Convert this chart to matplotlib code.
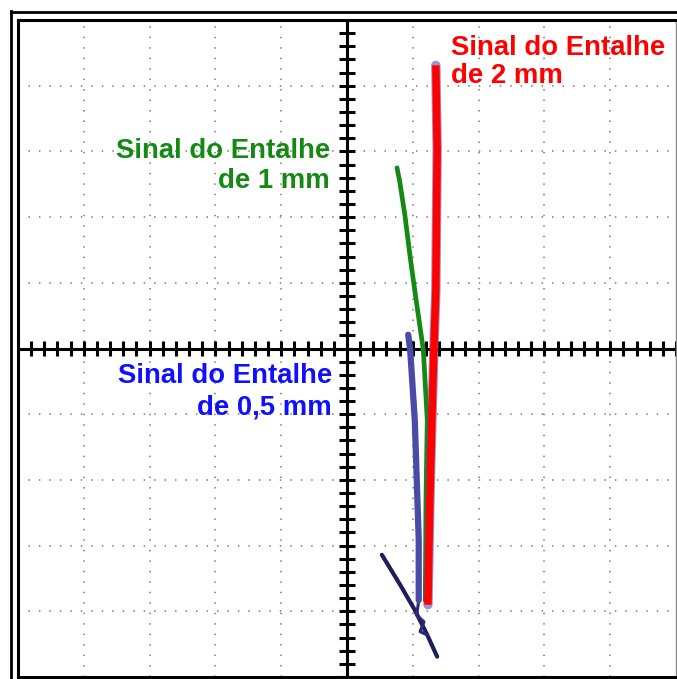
import numpy as np
import matplotlib
matplotlib.use("Agg")
import matplotlib.pyplot as plt
from matplotlib.lines import Line2D

# ---- signal traces (screen divisions, origin at the crosshair) ----
red_x = [1.35, 1.37, 1.35, 1.32, 1.29, 1.26, 1.23]
red_y = [4.31, 3.03, 0.89, -0.02, -1.09, -2.31, -3.90]

green_x = [0.76, 0.80, 0.88, 0.96, 1.05, 1.16, 1.22, 1.20, 1.19]
green_y = [2.75, 2.55, 2.03, 1.39, 0.74, -0.02, -1.09, -2.31, -3.83]

blue_x = [0.93, 0.96, 1.00, 1.03, 1.06, 1.09, 1.09]
blue_y = [0.21, -0.02, -0.63, -1.09, -2.00, -2.91, -3.83]

tail_x = [0.53, 0.81, 1.03, 1.22, 1.37]
tail_y = [-3.14, -3.60, -3.98, -4.36, -4.69]

curl_x = [1.09, 1.06, 1.17, 1.11, 1.22]
curl_y = [-3.83, -4.06, -4.16, -4.31, -4.36]

labels = {
    "red": ("Sinal do Entalhe", "de 2 mm"),
    "green": ("Sinal do Entalhe", "de 1 mm"),
    "blue": ("Sinal do Entalhe", "de 0,5 mm"),
}

W, H = 677, 679
fig = plt.figure(figsize=(W / 100, H / 100), dpi=100)
fig.patch.set_facecolor("white")

# screen area in pixels
L, R, T, B = 18, 676, 20, 677
ax = fig.add_axes([L / W, 1 - B / H, (R - L) / W, (B - T) / H])
ax.set_xlim(-5, 5)
ax.set_ylim(-5, 5)
ax.set_xticks([])
ax.set_yticks([])
for side in ("left", "top", "bottom"):
    ax.spines[side].set_linewidth(2.2)
    ax.spines[side].set_color("black")
ax.spines["right"].set_linewidth(1.0)
ax.spines["right"].set_color("#888888")

# dotted graticule
for g in [-4, -3, -2, -1, 1, 2, 3, 4]:
    ax.axvline(g, color="#8a8a8a", lw=1.3, linestyle=(0, (0.8, 5.0)), zorder=1)
    ax.axhline(g, color="#8a8a8a", lw=1.3, linestyle=(0, (0.8, 5.0)), zorder=1)

# central crosshair with minor tick bars
ax.axvline(0, color="black", lw=2.2, zorder=2)
ax.axhline(0, color="black", lw=2.2, zorder=2)
ticks = np.arange(-25, 26) * 0.2
half = 0.12
for t in ticks:
    ax.plot([-half, half], [t, t], color="black", lw=2.2, solid_capstyle="butt", zorder=2)
    ax.plot([t, t], [-half, half], color="black", lw=2.2, solid_capstyle="butt", zorder=2)

# traces
ax.plot(tail_x, tail_y, color="#1e1e5e", lw=3.0, solid_capstyle="round", zorder=3)
ax.plot(curl_x, curl_y, color="#2a2a70", lw=2.2, solid_capstyle="round", zorder=3)
ax.plot(blue_x, blue_y, color="#4a4aa8", lw=4.5, solid_capstyle="round", zorder=4)
ax.plot(green_x, green_y, color="#148a14", lw=3.4, solid_capstyle="round", zorder=5)
ax.plot(red_x, red_y, color="#5050b0", lw=6.8, alpha=0.6, solid_capstyle="round", zorder=6)
ax.plot(red_x, red_y, color="#ff0000", lw=5.4, solid_capstyle="butt", zorder=7)

font = dict(family=["Liberation Sans", "DejaVu Sans"], fontweight="bold", fontsize=19.8)
r1, r2 = labels["red"]
ax.text(1.58, 4.47, r1, color="#ff0000", ha="left", va="baseline", zorder=8, **font)
ax.text(1.58, 4.04, r2, color="#ff0000", ha="left", va="baseline", zorder=8, **font)
g1, g2 = labels["green"]
ax.text(-0.26, 2.90, g1, color="#148a14", ha="right", va="baseline", zorder=8, **font)
ax.text(-0.26, 2.44, g2, color="#148a14", ha="right", va="baseline", zorder=8, **font)
b1, b2 = labels["blue"]
ax.text(-0.23, -0.53, b1, color="#1010ff", ha="right", va="baseline", zorder=8, **font)
ax.text(-0.23, -1.01, b2, color="#1010ff", ha="right", va="baseline", zorder=8, **font)

# outer frame line (double border on the top and left)
fig.add_artist(Line2D([11 / W, 11 / W], [0, 1 - 11 / H], color="black", lw=2.0,
                      transform=fig.transFigure))
fig.add_artist(Line2D([11 / W, 1], [1 - 12 / H, 1 - 12 / H], color="black", lw=2.0,
                      transform=fig.transFigure))

fig.savefig("out.png", dpi=100, facecolor="white")
